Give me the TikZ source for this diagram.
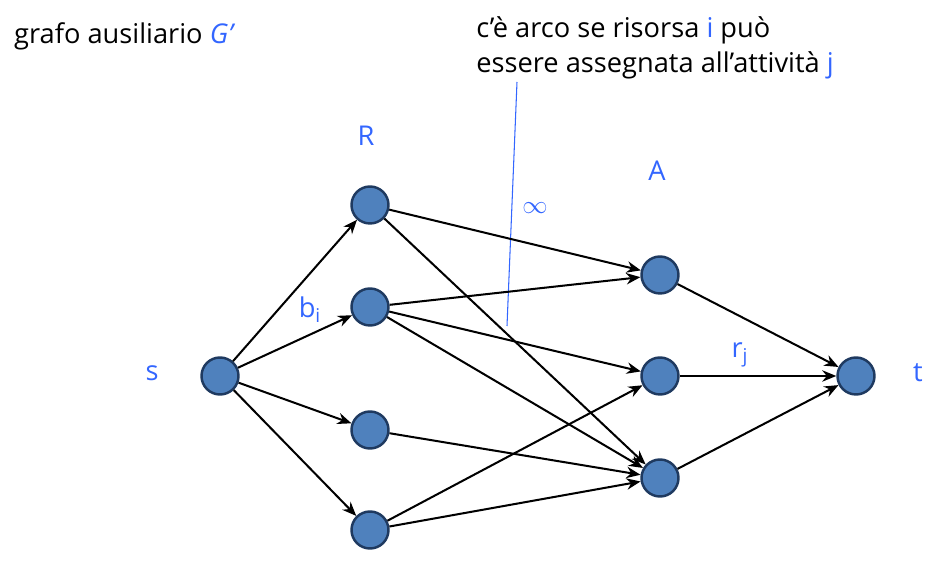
\documentclass[tikz,border=0pt]{standalone}
\usepackage{fontspec}
\setmainfont{Open Sans}
\usetikzlibrary{arrows.meta}
\definecolor{nodeblue}{HTML}{4F81BD}
\definecolor{nodeedge}{HTML}{1F3A60}
\definecolor{txtblue}{HTML}{3366FF}

\begin{document}
\begin{tikzpicture}[x=0.02cm, y=-0.02cm,
  vtx/.style={circle, fill=nodeblue, draw=nodeedge, line width=1.4pt, minimum size=0.74cm, inner sep=0pt},
  arc/.style={line width=1.15pt, -{Stealth[length=8pt, width=6.5pt]}},
  lbl/.style={text=txtblue},
  every node/.append style={font=\fontsize{15.5}{18}\selectfont}]
\useasboundingbox (0,0) rectangle (938,563);
% vertici
\node[vtx] (s) at (220,376) {};
\node[vtx] (r1) at (370,205) {};
\node[vtx] (r2) at (370,307) {};
\node[vtx] (r3) at (370,430) {};
\node[vtx] (r4) at (370,530) {};
\node[vtx] (a1) at (660,275) {};
\node[vtx] (a2) at (660,376) {};
\node[vtx] (a3) at (660,478) {};
\node[vtx] (t) at (856,376) {};
% etichette
\node[lbl] (ls) at (152,373) {s};
\node[lbl] (lt) at (918,373) {t};
\node[lbl] (lr) at (366,136) {R};
\node[lbl] (la) at (657,171) {A};
\node[lbl] (lb) at (310,310) {b\textsubscript{i}};
\node[lbl] (lrj) at (740,355) {r\textsubscript{j}};
\node[lbl] (linf) at (535,208) {$\infty$};
\node[anchor=west] (title) at (8,36) {grafo ausiliario \textcolor{txtblue}{\textit{G'}}};
\node[anchor=north west, align=left, inner sep=0pt] (note) at (476,16)
  {c'è arco se risorsa \textcolor{txtblue}{i} può\\[2pt] essere assegnata all'attività \textcolor{txtblue}{j}};
\coordinate (ptop) at (517,82);
\coordinate (pbot) at (507,326);
\draw[txtblue, line width=0.6pt] (ptop) -- (pbot);
% archi
\foreach \r in {r1,r2,r3,r4} \draw[arc] (s) -- (\r);
\draw[arc] (r1) -- (a1);
\draw[arc] (r1) -- (a3);
\draw[arc] (r2) -- (a1);
\draw[arc] (r2) -- (a2);
\draw[arc] (r2) -- (a3);
\draw[arc] (r3) -- (a3);
\draw[arc] (r4) -- (a2);
\draw[arc] (r4) -- (a3);
\foreach \a in {a1,a2,a3} \draw[arc] (\a) -- (t);
\end{tikzpicture}
\end{document}
